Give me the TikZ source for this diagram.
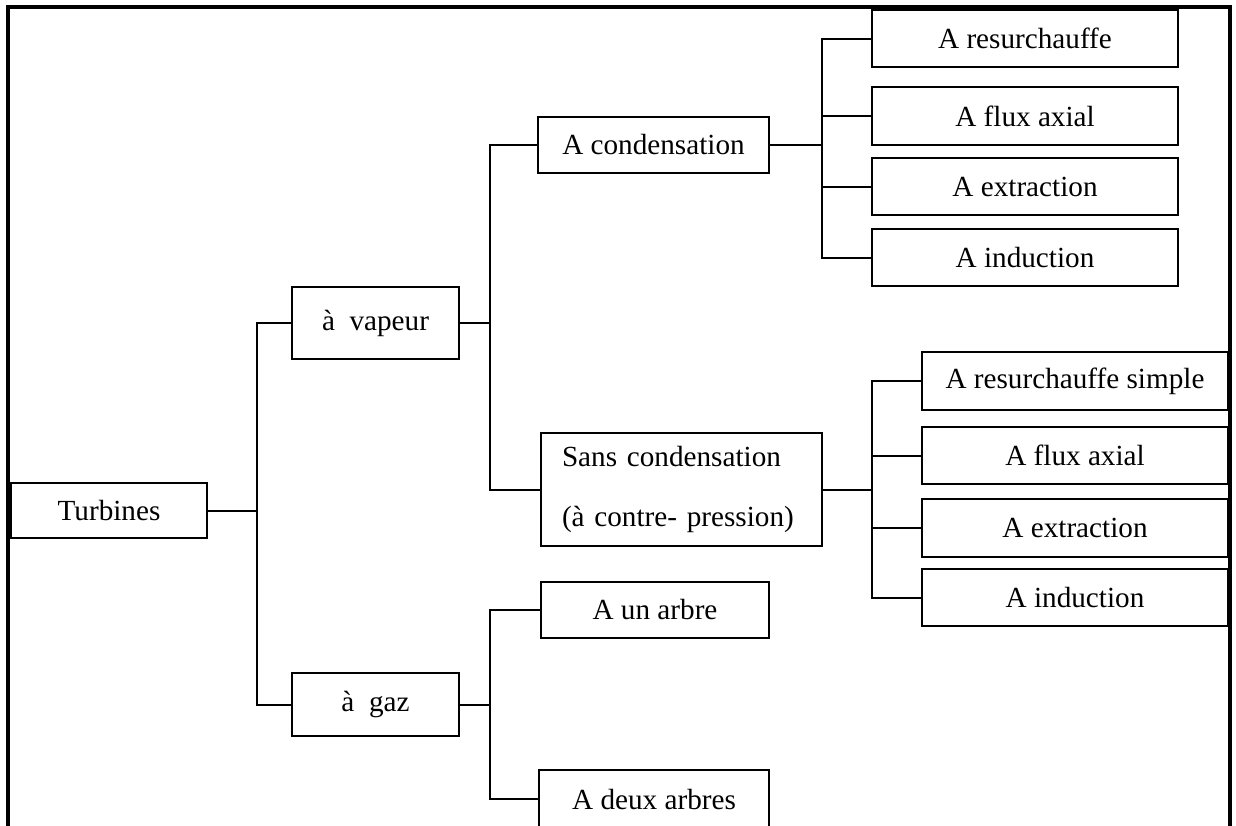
\documentclass[tikz,border=0pt]{standalone}
\usepackage{fontspec}
\setmainfont{Liberation Serif}
\begin{document}
\begin{tikzpicture}[x=0.5pt,y=-0.5pt,
  box/.style={draw, line width=1.2pt, inner sep=0pt,
    font=\fontsize{14.6}{17}\selectfont},
  link/.style={line width=1pt},
  frame/.style={line width=2.2pt}]
\useasboundingbox (0,0) rectangle (1236,825);
\clip (0,0) rectangle (1236,825);

% outer frame (open at the bottom)
\draw[frame] (8,840) -- (8,7) -- (1230,7) -- (1230,840);

% root and first level
\node[box, minimum width=98pt, minimum height=27.5pt] (turb) at (109,510.5) {Turbines};
\node[box, minimum width=83.5pt, minimum height=36pt] (vap) at (375.5,323) {à~~vapeur};
\node[box, minimum width=83.5pt, minimum height=31.5pt] (gaz) at (375.5,704.5) {à~~gaz};

% steam turbines
\node[box, minimum width=115.5pt, minimum height=28pt] (cond) at (653.5,145) {A condensation};
\node[box, minimum height=56.5pt, text width=119.5pt, inner xsep=10.5pt, align=left,
  font=\fontsize{14.6}{30}\selectfont] (sans) at (681.5,489.5)
  {Sans condensation\\(à contre- pression)};

% gas turbines
\node[box, minimum width=114pt, minimum height=28pt] (un) at (655,610) {A un arbre};
\node[box, minimum width=115pt, minimum height=29pt] (deux) at (654,799) {A deux arbres};

% condensing variants
\node[box, minimum width=153pt, minimum height=28.5pt] (r1) at (1025,38.5) {A resurchauffe};
\node[box, minimum width=153pt, minimum height=29pt] (r2) at (1025,116) {A flux axial};
\node[box, minimum width=153pt, minimum height=28.5pt] (r3) at (1025,186.5) {A extraction};
\node[box, minimum width=153pt, minimum height=28.5pt] (r4) at (1025,257.5) {A induction};

% back-pressure variants
\node[box, minimum width=153pt, minimum height=29pt] (s1) at (1075,381) {A resurchauffe simple};
\node[box, minimum width=153pt, minimum height=28.5pt] (s2) at (1075,455.5) {A flux axial};
\node[box, minimum width=153pt, minimum height=29pt] (s3) at (1075,528) {A extraction};
\node[box, minimum width=153pt, minimum height=28.5pt] (s4) at (1075,597.5) {A induction};

% branch points
\coordinate (b1) at (257,510.5);
\coordinate (b2) at (490,323);
\coordinate (b3) at (490,704.5);
\coordinate (b4) at (822,145);
\coordinate (b5) at (872,489.5);

% connectors
\draw[link] (turb.east) -- (b1);
\draw[link] (vap.west) -| (b1) |- (gaz.west);

\draw[link] (vap.east) -- (b2);
\draw[link] (cond.west) -| (b2) |- (sans.west);

\draw[link] (gaz.east) -- (b3);
\draw[link] (un.west) -| (b3) |- (deux.west);

\draw[link] (cond.east) -- (b4);
\draw[link] (r1.west) -| (b4) |- (r4.west);
\draw[link] (r2.west) -- (r2.west -| b4);
\draw[link] (r3.west) -- (r3.west -| b4);

\draw[link] (sans.east) -- (b5);
\draw[link] (s1.west) -| (b5) |- (s4.west);
\draw[link] (s2.west) -- (s2.west -| b5);
\draw[link] (s3.west) -- (s3.west -| b5);
\end{tikzpicture}
\end{document}
